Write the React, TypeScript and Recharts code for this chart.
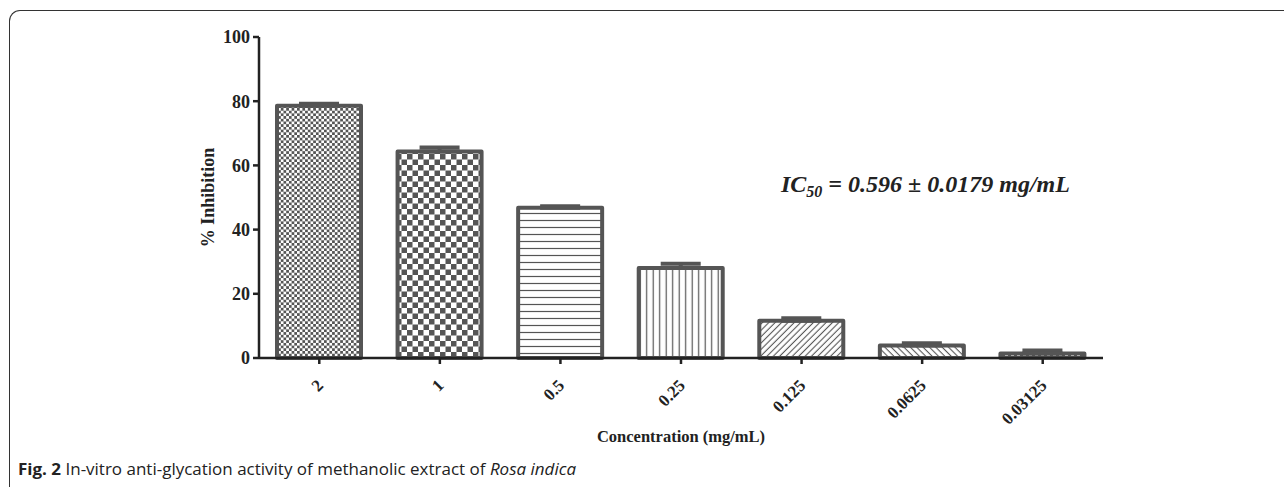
import React from 'react';
import { BarChart, Bar, XAxis, YAxis, Cell, ErrorBar, Label } from 'recharts';

const concentrations = ['2', '1', '0.5', '0.25', '0.125', '0.0625', '0.03125'];
const inhibition = [78.6, 64.3, 46.8, 28.0, 11.6, 3.9, 1.4];
const sem = [0.6, 1.3, 0.5, 1.4, 0.8, 0.7, 0.9];
const yTicks = [0, 20, 40, 60, 80, 100];

const data = concentrations.map((c, i) => ({
  conc: c,
  value: inhibition[i],
  err: [0, sem[i]],
}));

const SERIF = '"Liberation Serif", "Times New Roman", serif';
const DARK = '#555555';

const XTick = (props: any) => {
  const { x, y, payload } = props;
  return (
    <g transform={`translate(${x},${y})`}>
      <text
        x={-11}
        y={18}
        textAnchor="end"
        transform="rotate(-45)"
        fontFamily={SERIF}
        fontWeight="bold"
        fontSize={17}
        fill="#222"
      >
        {payload.value}
      </text>
    </g>
  );
};

const YLabel = (props: any) => {
  const vb = props.viewBox || {};
  const cy = vb.y + vb.height / 2;
  const cx = 214;
  return (
    <text
      x={cx}
      y={cy}
      transform={`rotate(-90, ${cx}, ${cy})`}
      textAnchor="middle"
      fontFamily={SERIF}
      fontWeight="bold"
      fontSize={18}
      fill="#222"
    >
      % Inhibition
    </text>
  );
};

const XLabel = (props: any) => {
  const vb = props.viewBox || {};
  const cx = vb.x + vb.width / 2;
  return (
    <text
      x={cx}
      y={442}
      textAnchor="middle"
      fontFamily={SERIF}
      fontWeight="bold"
      fontSize={16.5}
      fill="#222"
    >
      Concentration (mg/mL)
    </text>
  );
};

export default function App() {
  return (
    <div
      style={{
        position: 'absolute',
        left: 0,
        top: 0,
        width: 1284,
        height: 487,
        background: '#fff',
        overflow: 'hidden',
      }}
    >
      <div
        style={{
          position: 'absolute',
          left: 9,
          top: 10,
          width: 1300,
          height: 520,
          borderTop: '1.5px solid #333',
          borderLeft: '1.5px solid #333',
          borderTopLeftRadius: 11,
          boxSizing: 'border-box',
        }}
      />
      <div style={{ position: 'absolute', left: 0, top: 0 }}>
        <BarChart
          width={1284}
          height={487}
          data={data}
          margin={{ top: 37, right: 181, bottom: 39, left: 0 }}
        >
          <defs>
            <pattern id="pat0" patternUnits="userSpaceOnUse" width={5.4} height={5.4}>
              <rect x={0} y={0} width={5.4} height={5.4} fill="#fff" />
              <rect x={0} y={0} width={2.7} height={2.7} fill={DARK} />
              <rect x={2.7} y={2.7} width={2.7} height={2.7} fill={DARK} />
            </pattern>
            <pattern id="pat1" patternUnits="userSpaceOnUse" width={11} height={11}>
              <rect x={0} y={0} width={11} height={11} fill="#fff" />
              <rect x={0} y={0} width={5.5} height={5.5} fill={DARK} />
              <rect x={5.5} y={5.5} width={5.5} height={5.5} fill={DARK} />
            </pattern>
            <pattern id="pat2" patternUnits="userSpaceOnUse" width={8} height={7}>
              <rect x={0} y={0} width={8} height={7} fill="#fff" />
              <line x1={0} y1={3.5} x2={8} y2={3.5} stroke={DARK} strokeWidth={1.2} />
            </pattern>
            <pattern id="pat3" patternUnits="userSpaceOnUse" width={6.5} height={8}>
              <rect x={0} y={0} width={6.5} height={8} fill="#fff" />
              <line x1={3.2} y1={0} x2={3.2} y2={8} stroke={DARK} strokeWidth={1.2} />
            </pattern>
            <pattern id="pat4" patternUnits="userSpaceOnUse" width={4.5} height={4.5} patternTransform="rotate(45)">
              <rect x={0} y={0} width={4.5} height={4.5} fill="#fff" />
              <line x1={2.2} y1={0} x2={2.2} y2={4.5} stroke={DARK} strokeWidth={1.1} />
            </pattern>
            <pattern id="pat5" patternUnits="userSpaceOnUse" width={4.5} height={4.5} patternTransform="rotate(-45)">
              <rect x={0} y={0} width={4.5} height={4.5} fill="#fff" />
              <line x1={2.2} y1={0} x2={2.2} y2={4.5} stroke={DARK} strokeWidth={1.1} />
            </pattern>
            <pattern id="pat6" patternUnits="userSpaceOnUse" width={6} height={3}>
              <rect x={0} y={0} width={6} height={3} fill="#fff" />
              <line x1={0} y1={1.5} x2={3} y2={1.5} stroke={DARK} strokeWidth={1} />
            </pattern>
          </defs>
          <XAxis
            dataKey="conc"
            type="category"
            height={90}
            interval={0}
            tick={<XTick />}
            tickSize={6}
            tickMargin={2}
            axisLine={{ stroke: '#222', strokeWidth: 2.5 }}
            tickLine={{ stroke: '#222', strokeWidth: 2.5 }}
          >
            <Label content={<XLabel />} />
          </XAxis>
          <YAxis
            type="number"
            domain={[0, 100]}
            ticks={yTicks}
            width={259}
            tickSize={6}
            tickMargin={3}
            tick={{ fill: '#222', fontSize: 18, fontWeight: 'bold', fontFamily: SERIF }}
            axisLine={{ stroke: '#222', strokeWidth: 2.5 }}
            tickLine={{ stroke: '#222', strokeWidth: 2.5 }}
          >
            <Label content={<YLabel />} />
          </YAxis>
          <Bar
            dataKey="value"
            barSize={84}
            stroke={DARK}
            strokeWidth={4}
            strokeLinejoin="round"
            isAnimationActive={false}
          >
            {data.map((d, i) => (
              <Cell key={d.conc} fill={`url(#pat${i})`} />
            ))}
            <ErrorBar
              dataKey="err"
              width={20}
              strokeWidth={4}
              stroke={DARK}
              direction="y"
              isAnimationActive={false}
            />
          </Bar>
        </BarChart>
      </div>
      <div
        style={{
          position: 'absolute',
          left: 781,
          top: 171,
          fontFamily: SERIF,
          fontWeight: 'bold',
          fontStyle: 'italic',
          fontSize: 24,
          color: '#222',
          whiteSpace: 'nowrap',
          lineHeight: '26px',
        }}
      >
        IC<sub style={{ fontSize: 16, verticalAlign: -5 }}>50</sub> = 0.596 ± 0.0179 mg/mL
      </div>
      <svg
        width={700}
        height={30}
        style={{ position: 'absolute', left: 0, top: 456 }}
      >
        <text
          x={18}
          y={19}
          textLength={558}
          lengthAdjust="spacingAndGlyphs"
          fontFamily='"Open Sans", "Noto Sans", sans-serif'
          fontSize={16}
          fill="#222"
        >
          <tspan fontWeight="bold">Fig. 2</tspan> In-vitro anti-glycation activity of methanolic extract of{' '}
          <tspan fontStyle="italic">Rosa indica</tspan>
        </text>
      </svg>
    </div>
  );
}
